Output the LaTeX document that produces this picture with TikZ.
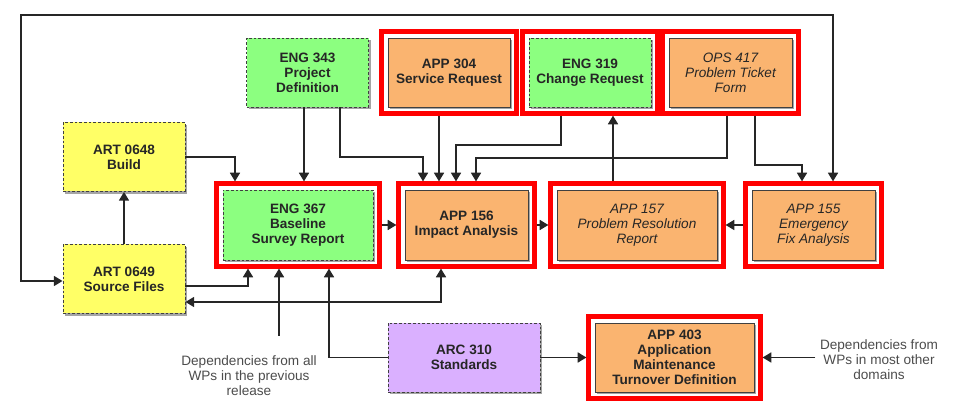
\documentclass[tikz,border=0pt]{standalone}
\usepackage{fontspec}
\setmainfont{Liberation Sans}
\usetikzlibrary{arrows.meta,fit,shadows}

\definecolor{wpgreen}{RGB}{140,255,128}
\definecolor{wpyellow}{RGB}{255,255,102}
\definecolor{wporange}{RGB}{250,180,112}
\definecolor{wppurple}{RGB}{218,176,255}

\tikzset{
  wp/.style={draw=black!75, line width=0.7pt, minimum width=91.5pt, minimum height=51.75pt,
    align=center, text=black!85, font=\fontsize{10.2}{11.3}\selectfont\bfseries,
    drop shadow={shadow xshift=1.8pt, shadow yshift=-1.8pt, fill=black!70}},
  wpdash/.style={wp, dash pattern=on 2pt off 1.5pt},
  wpital/.style={wp, font=\fontsize{10.2}{11.3}\selectfont\itshape},
  hl/.style={draw=red, line width=3.75pt, inner sep=4.2pt, outer sep=1.9pt},
  arr/.style={-{Triangle[width=7.5pt,length=6.5pt]}, line width=1.2pt, draw=black!85},
  arrs/.style={{Triangle[width=7.5pt,length=6.5pt]}-{Triangle[width=7.5pt,length=6.5pt]}, line width=1.2pt, draw=black!85},
  deps/.style={align=center, text=black!70, font=\fontsize{10.2}{11.3}\selectfont}
}

\begin{document}
\begin{tikzpicture}[x=0.75pt, y=-0.75pt]
\useasboundingbox (0,0) rectangle (953,416);

% work products
\node[wpdash, fill=wpyellow] (art648) at (124,157) {ART 0648\\Build};
\node[wpdash, fill=wpyellow] (art649) at (124,279) {ART 0649\\Source Files};
\node[wpdash, fill=wpgreen] (eng343) at (307.5,72.5) {ENG 343\\Project\\Definition};
\node[wp, fill=wporange] (app304) at (449,72.5) {APP 304\\Service Request};
\node[wpdash, fill=wpgreen] (eng319) at (590,72.5) {ENG 319\\Change Request};
\node[wpital, fill=wporange, minimum width=92.25pt] (ops417) at (730.5,72.5) {OPS 417\\Problem Ticket\\Form};
\node[wpdash, fill=wpgreen, minimum width=112.5pt, minimum height=52.5pt] (eng367) at (298,225) {ENG 367\\Baseline\\Survey Report};
\node[wp, fill=wporange, minimum width=92.25pt, minimum height=52.5pt] (app156) at (466.5,225) {APP 156\\Impact Analysis};
\node[wpital, fill=wporange, minimum width=120pt, minimum height=52.5pt] (app157) at (637,225) {APP 157\\Problem Resolution\\Report};
\node[wpital, fill=wporange, minimum width=92.25pt, minimum height=52.5pt] (app155) at (813.5,225) {APP 155\\Emergency\\Fix Analysis};
\node[wpdash, fill=wppurple, minimum width=114pt] (arc310) at (464,357.5) {ARC 310\\Standards};
\node[wp, fill=wporange, minimum width=119.25pt] (app403) at (674.5,357.5) {APP 403\\Application\\Maintenance\\Turnover Definition};

\node[deps] (deps1) at (249,376) {Dependencies from all\\WPs in the previous\\release};
\node[deps] (deps2) at (879,360) {Dependencies from\\WPs in most other\\domains};
\coordinate (dep1top) at (279,336);

% red highlights
\node[hl, fit=(app304)] (fr304) {};
\node[hl, fit=(eng319)] (fr319) {};
\node[hl, fit=(ops417)] (fr417) {};
\node[hl, fit=(eng367)] (fr367) {};
\node[hl, fit=(app156)] (fr156) {};
\node[hl, fit=(app157)] (fr157) {};
\node[hl, fit=(app155)] (fr155) {};
\node[hl, fit=(app403)] (fr403) {};

% connectors
\draw[arr] (art649) -- (art648);
\draw[arr] (art648.east) -| (fr367.north -| 235,0);
\draw[arr] (eng343.south -| 304,0) -- (fr367.north -| 304,0);
\draw[arr] (eng343.south -| 340,0) |- (423,157) -- (fr156.north -| 423,0);
\draw[arr] (fr304.south -| 439,0) -- (fr156.north -| 439,0);
\draw[arr] (fr319.south -| 561,0) |- (456,145) -- (fr156.north -| 456,0);
\draw[arr] (fr417.south -| 727,0) |- (476,158) -- (fr156.north -| 476,0);
\draw[arr] (fr417.south -| 755,0) |- (802,165) -- (fr155.north -| 802,0);
\draw[arr] (fr157.north -| 613,0) -- (fr319.south -| 613,0);
\draw[arr] (fr367) -- (fr156);
\draw[arr] (fr156) -- (fr157);
\draw[arr] (fr155) -- (fr157);
\draw[arr] (art649.east |- 0,286) -| (fr367.south -| 248,0);
\draw[arrs] (fr156.south -| 441,0) |- (art649.east |- 0,302);
\draw[arr] (dep1top) -- (fr367.south -| 279,0);
\draw[arr] (arc310.west) -| (fr367.south -| 329,0);
\draw[arr] (arc310) -- (fr403);
\draw[arr] (deps2.west |- fr403) -- (fr403);
\draw[arrs] (art649.west |- 0,281) -| (21,15) -| (fr155.north -| 833,0);
\end{tikzpicture}
\end{document}
